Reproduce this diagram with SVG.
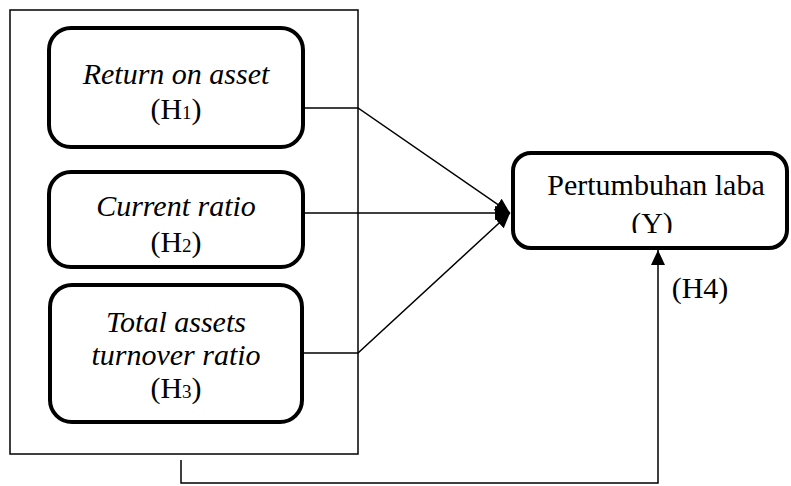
<svg xmlns="http://www.w3.org/2000/svg" width="791" height="486" viewBox="0 0 791 486">
<style>
.frame{fill:none;stroke:#000;stroke-width:1.5}
.box{fill:#fff;stroke:#000;stroke-width:4}
.t{font-family:"Liberation Serif","Times New Roman",serif;font-size:30px;fill:#000;text-anchor:middle}
.i{font-style:italic}
.sub{font-size:19px}
.conn{fill:none;stroke:#000;stroke-width:1.5}
</style>
<defs>
<marker id="arr" markerUnits="userSpaceOnUse" markerWidth="16" markerHeight="14" refX="15" refY="7" orient="auto">
<path d="M0,0 L15,7 L0,14 Z" fill="#000"/>
</marker>
<clipPath id="clipY"><rect x="515" y="155" width="270" height="78"/></clipPath>
</defs>
<rect class="frame" x="10" y="10" width="348" height="444"/>
<g id="connectors">
<polyline class="conn" points="303,108 358,108 510,213" marker-end="url(#arr)"/>
<line class="conn" x1="303" y1="213" x2="510" y2="213" marker-end="url(#arr)"/>
<polyline class="conn" points="303,353 358,353 510,213" marker-end="url(#arr)"/>
<polyline class="conn" points="181,460 181,483 658,483 658,250" marker-end="url(#arr)"/>
</g>
<g id="h1">
<rect class="box" x="49" y="28" width="254" height="119" rx="22"/>
<text class="t i" x="176" y="84">Return on asset</text>
<text class="t" x="176" y="119">(H<tspan class="sub">1</tspan>)</text>
</g>
<g id="h2">
<rect class="box" x="49" y="172" width="254" height="95" rx="22"/>
<text class="t i" x="176" y="216">Current ratio</text>
<text class="t" x="176" y="252">(H<tspan class="sub">2</tspan>)</text>
</g>
<g id="h3">
<rect class="box" x="50" y="285" width="252" height="137" rx="22"/>
<text class="t i" x="176" y="332">Total assets</text>
<text class="t i" x="176" y="365">turnover ratio</text>
<text class="t" x="176" y="398">(H<tspan class="sub">3</tspan>)</text>
</g>
<g id="y">
<rect class="box" x="513" y="153" width="274" height="95" rx="18"/>
<text class="t" x="656" y="195">Pertumbuhan laba</text>
<text class="t" x="652" y="233" clip-path="url(#clipY)">(Y)</text>
</g>
<g id="h4label">
<text class="t" x="700" y="298">(H4)</text>
</g>
</svg>
